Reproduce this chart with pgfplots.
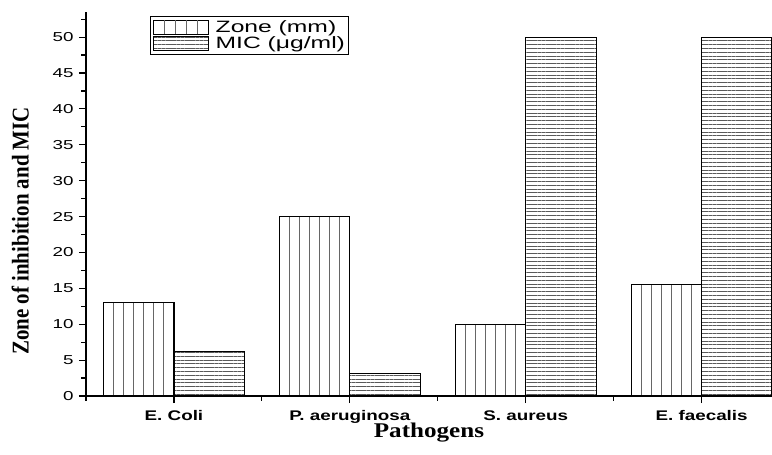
\documentclass[border=0pt]{standalone}
\usepackage{fontspec}
\usepackage{graphicx}
\usepackage{pgfplots}
\usepackage{pgfplotstable}
\pgfplotsset{compat=1.18}
\usetikzlibrary{patterns.meta}
\setmainfont{Liberation Serif}
\setsansfont{Liberation Sans}
\newcommand{\wide}[2]{\scalebox{#1}[1]{#2}}
\newcommand{\legtext}[1]{{\sffamily\fontsize{16.5}{17}\selectfont\scalebox{1.5}[1]{#1}}}
\pgfplotsset{
  zonelegend/.style={legend image code/.code={
    \draw[black, line width=1bp] (0bp,-7bp) rectangle (55bp,7bp);
    \foreach \i in {11,22,33,44} \draw[black!60, line width=1bp] (\i bp,-7bp) -- (\i bp,7bp);}},
  miclegend/.style={legend image code/.code={
    \draw[##1] (0bp,-7bp) rectangle (55bp,7bp);}},
}

\pgfplotstableread{
x zone mic
0 13   6.25
1 25   3.125
2 10   50
3 15.5 50
}\datatable

\begin{document}
\begin{tikzpicture}
\begin{axis}[
  scale only axis, width=686bp, height=384bp,
  xmin=-0.5, xmax=3.4, ymin=0, ymax=53.5,
  axis x line*=bottom, axis y line*=left,
  axis line style={line width=1.3bp, black},
  tick align=outside,
  major tick length=7bp, minor tick length=4.5bp,
  every tick/.style={line width=1.2bp, black},
  xtick={0,1,2,3},
  xticklabels={\wide{1.35}{E. Coli}, \wide{1.35}{P. aeruginosa}, \wide{1.35}{S. aureus}, \wide{1.35}{E. faecalis}},
  minor xtick={-0.5,0.5,1.5,2.5},
  ytick={0,5,...,50},
  minor ytick={2.5,7.5,...,52.5},
  /pgf/number format/assume math mode=true,
  yticklabel={\wide{1.45}{\pgfmathprintnumber{\tick}}},
  yticklabel style={font=\sffamily\fontsize{13}{15}\selectfont, xshift=-2bp},
  xticklabel style={font=\sffamily\bfseries\fontsize{14}{16}\selectfont, yshift=-4bp},
  xlabel={\wide{1.2}{Pathogens}},
  xlabel style={at={(axis description cs:0.5,-0.096)}, anchor=center,
    font=\bfseries\fontsize{21}{24}\selectfont},
  ylabel={\scalebox{1}[1.15]{Zone of inhibition and MIC}},
  ylabel style={at={(axis description cs:-0.096,0.43)}, anchor=center,
    font=\bfseries\fontsize{21}{24}\selectfont},
  legend style={at={(axis description cs:0.0933,0.99)}, anchor=north west,
    draw=black, line width=1bp, inner sep=2.5bp, column sep=5bp, row sep=0bp,
    nodes={inner sep=1.5bp}},
  legend cell align=left,
]
\pgfplotsinvokeforeach{-0.342857,-0.285714,-0.228571,-0.171429,-0.114286,-0.057143}{
  \addplot[ybar, bar width=0.0001, bar shift=#1, draw=black!60, line width=1bp, forget plot]
    table[x=x,y=zone]{\datatable};
}
\addplot[ybar, bar width=0.4, bar shift=-0.2, draw=black, fill=none, line width=1.2bp, zonelegend]
  table[x=x,y=zone]{\datatable};
\addlegendentry{\legtext{Zone (mm)}}
\addplot[ybar, bar width=0.4, bar shift=0.2, draw=black, line width=1.2bp,
  pattern={Lines[angle=0,distance=3.8bp,line width=0.9bp]}, pattern color=black!65, miclegend]
  table[x=x,y=mic]{\datatable};
\addlegendentry{\legtext{MIC (μg/ml)}}
\coordinate (bl) at (rel axis cs:0,0);
\coordinate (tr) at (rel axis cs:1,1);
\end{axis}
\pgfresetboundingbox
\path ([xshift=-86bp,yshift=-59bp]bl) rectangle ([yshift=12bp]tr);
\end{tikzpicture}
\end{document}
